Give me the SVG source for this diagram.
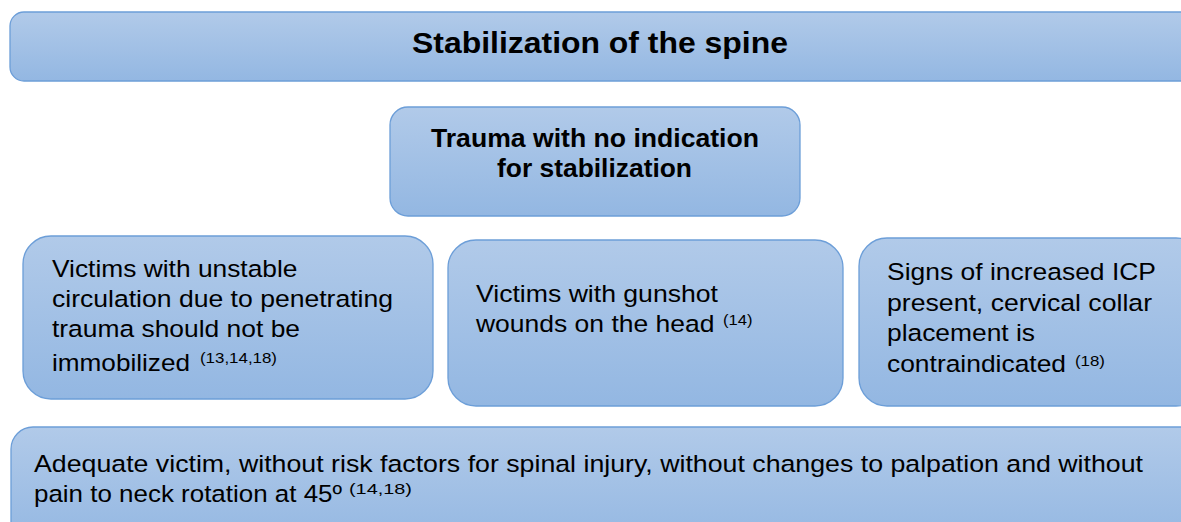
<svg xmlns="http://www.w3.org/2000/svg" width="1181" height="522" viewBox="0 0 1181 522">
<defs>
<linearGradient id="g" x1="0" y1="0" x2="0" y2="1">
<stop offset="0" stop-color="#b1cae9"/>
<stop offset="1" stop-color="#93b7e2"/>
</linearGradient>
<style>
.box{fill:url(#g);stroke:#6c9ed8;stroke-width:1.3}
.t{font-family:"Liberation Sans",Arial,sans-serif;fill:#000;font-size:24.5px}
.b{font-weight:bold}
.s{font-size:15px}
</style>
</defs>
<rect width="1181" height="522" fill="#fff"/>
<g id="connectors"></g>
<g id="title">
<rect class="box" x="10" y="12" width="1200" height="69" rx="14"/>
<text class="t b" x="412" y="53" style="font-size:30px" textLength="376" lengthAdjust="spacingAndGlyphs">Stabilization of the spine</text>
</g>
<g id="trauma">
<rect class="box" x="390" y="107" width="410" height="109" rx="18"/>
<text class="t b" x="431" y="147" style="font-size:25.5px" textLength="328" lengthAdjust="spacingAndGlyphs">Trauma with no indication</text>
<text class="t b" x="497" y="177" style="font-size:25.5px" textLength="195" lengthAdjust="spacingAndGlyphs">for stabilization</text>
</g>
<g id="unstable">
<rect class="box" x="23" y="236" width="410" height="163" rx="28"/>
<text class="t" x="52" y="277" textLength="245.5" lengthAdjust="spacingAndGlyphs">Victims with unstable</text>
<text class="t" x="52" y="307" textLength="341" lengthAdjust="spacingAndGlyphs">circulation due to penetrating</text>
<text class="t" x="52" y="337" textLength="248" lengthAdjust="spacingAndGlyphs">trauma should not be</text>
<text class="t" x="52" y="371" textLength="138" lengthAdjust="spacingAndGlyphs">immobilized</text>
<text class="t s" x="200" y="363" textLength="77" lengthAdjust="spacingAndGlyphs">(13,14,18)</text>
</g>
<g id="gunshot">
<rect class="box" x="448" y="240" width="395" height="166" rx="28"/>
<text class="t" x="476" y="302" textLength="242" lengthAdjust="spacingAndGlyphs">Victims with gunshot</text>
<text class="t" x="476" y="332" textLength="238.5" lengthAdjust="spacingAndGlyphs">wounds on the head</text>
<text class="t s" x="723" y="325" textLength="29.5" lengthAdjust="spacingAndGlyphs">(14)</text>
</g>
<g id="icp">
<rect class="box" x="859" y="238" width="345" height="168" rx="28"/>
<text class="t" x="887" y="280" textLength="269" lengthAdjust="spacingAndGlyphs">Signs of increased ICP</text>
<text class="t" x="887" y="311" textLength="265" lengthAdjust="spacingAndGlyphs">present, cervical collar</text>
<text class="t" x="887" y="341" textLength="148" lengthAdjust="spacingAndGlyphs">placement is</text>
<text class="t" x="887" y="372" textLength="179" lengthAdjust="spacingAndGlyphs">contraindicated</text>
<text class="t s" x="1075" y="366" textLength="30" lengthAdjust="spacingAndGlyphs">(18)</text>
</g>
<g id="adequate">
<rect class="box" x="11" y="427" width="1200" height="120" rx="22"/>
<text class="t" x="34" y="472" textLength="1109" lengthAdjust="spacingAndGlyphs">Adequate victim, without risk factors for spinal injury, without changes to palpation and without</text>
<text class="t" x="34" y="502" textLength="308" lengthAdjust="spacingAndGlyphs">pain to neck rotation at 45º</text>
<text class="t s" x="349" y="494" textLength="63" lengthAdjust="spacingAndGlyphs">(14,18)</text>
</g>
</svg>
